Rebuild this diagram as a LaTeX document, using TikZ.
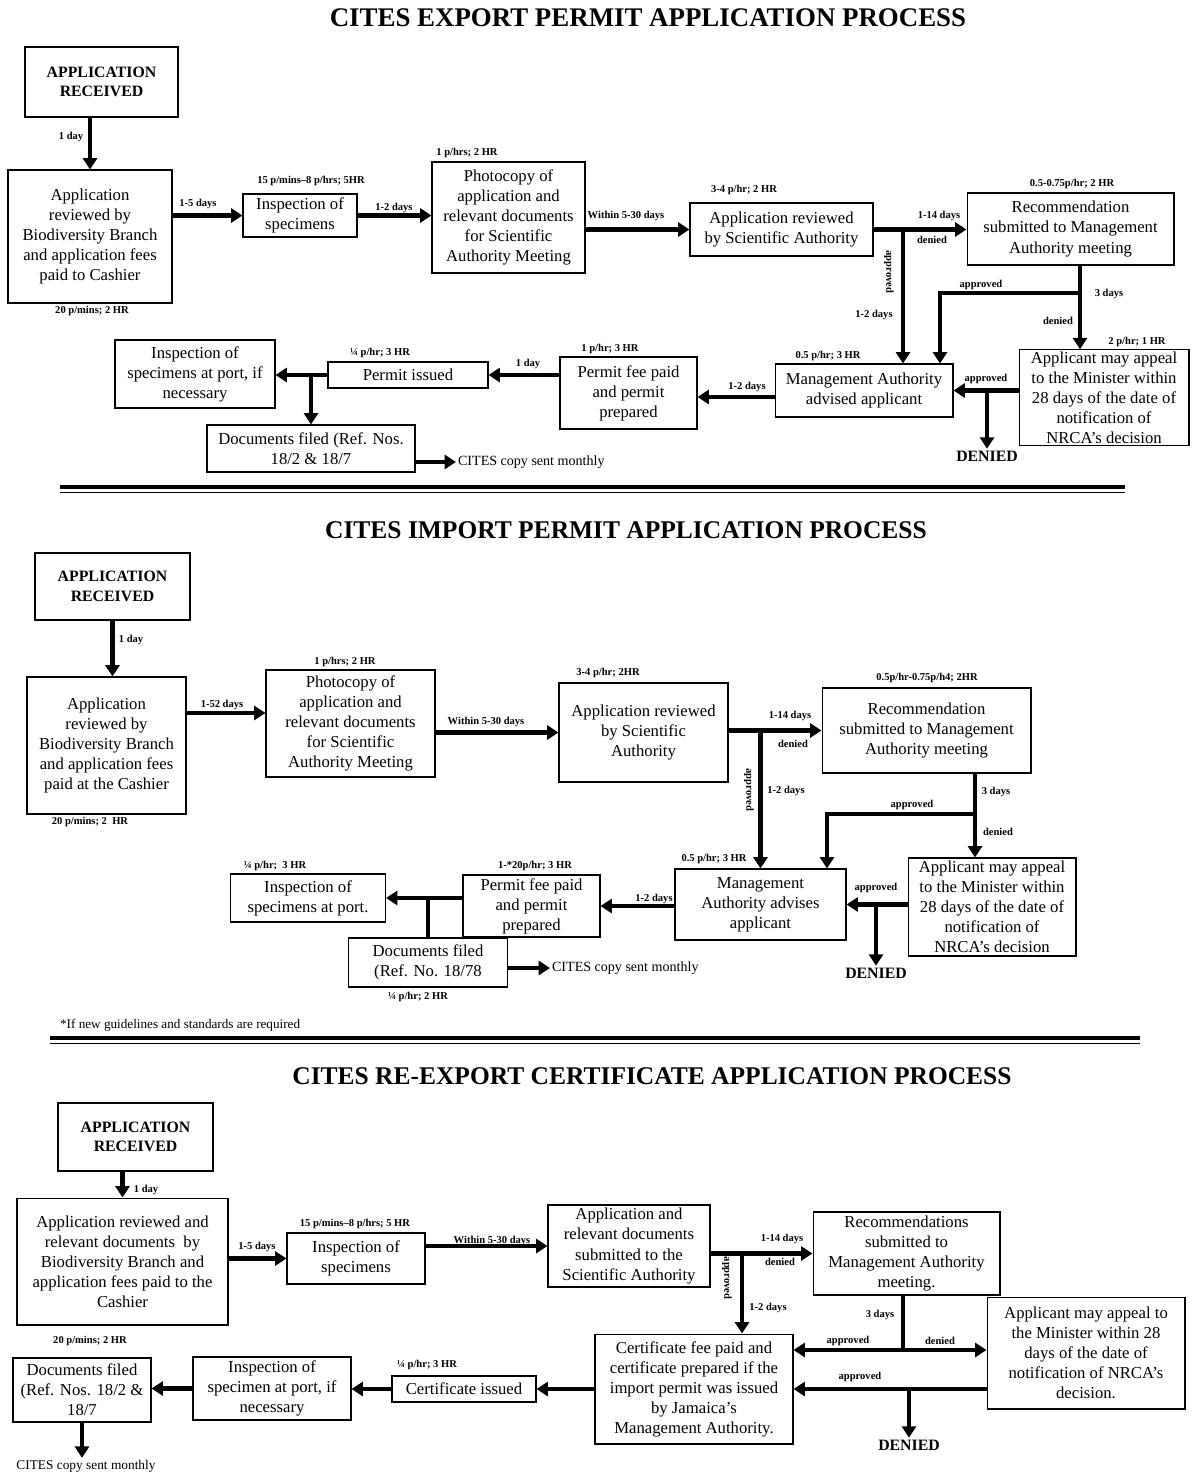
\documentclass[tikz,border=0pt]{standalone}
\usepackage{fontspec}
\setmainfont{Liberation Serif}
\usepackage{tikz}
\usetikzlibrary{arrows.meta}

\begin{document}
\begin{tikzpicture}[x=0.02cm, y=-0.02cm,
    box/.style={draw, line width=0.6pt, align=center, inner sep=1pt, font=\fontsize{9.5}{11.4}\selectfont},
    headbox/.style={box, font=\fontsize{9}{11}\selectfont\bfseries},
    lbl/.style={font=\fontsize{6}{7}\selectfont\bfseries, inner sep=0pt},
    flow/.style={line width=2.4pt, -{Triangle[length=6.5pt, width=8pt]}},
    bar/.style={line width=2.4pt},
    denied/.style={font=\fontsize{9}{10}\selectfont\bfseries, inner sep=1pt},
    note/.style={font=\fontsize{8}{9}\selectfont, inner sep=1pt},
    title/.style={font=\fontsize{14.5}{16}\selectfont\bfseries}]
    \useasboundingbox (0,0) rectangle (1191,1474);

    % ---------------- export permit ----------------
    \node[title, font=\fontsize{15.3}{17}\selectfont\bfseries] (t-exp) at (648,18) {CITES EXPORT PERMIT APPLICATION PROCESS};

    \node[headbox, minimum width=3.06cm, minimum height=1.40cm] (rec1) at (101.5,82) {APPLICATION\\RECEIVED};
    \node[box, minimum width=3.28cm, minimum height=2.66cm] (rev1) at (90,236.5) {Application\\reviewed by\\Biodiversity Branch\\and application fees\\paid to Cashier};
    \node[box, minimum width=2.28cm, minimum height=0.86cm] (insp1) at (300,215.5) {Inspection of\\specimens};
    \node[box, minimum width=3.06cm, minimum height=2.22cm] (photo1) at (508.5,217.5) {Photocopy of\\application and\\relevant documents\\for Scientific\\Authority Meeting};
    \node[box, minimum width=3.66cm, minimum height=1.06cm] (sa1) at (781.5,229.5) {Application reviewed\\by Scientific Authority};
    \node[box, minimum width=4.14cm, minimum height=1.44cm] (rmtg1) at (1070.5,229) {Recommendation\\submitted to Management\\Authority meeting};
    \node[box, minimum width=3.40cm, minimum height=1.90cm] (appeal1) at (1104,397.5) {Applicant may appeal\\to the Minister within\\28 days of the date of\\notification of\\NRCA's decision};
    \node[box, minimum width=3.56cm, minimum height=1.06cm] (ma1) at (864,390.5) {Management Authority\\advised applicant};
    \node[box, minimum width=2.74cm, minimum height=1.44cm] (fee1) at (628.5,393) {Permit fee paid\\and permit\\prepared};
    \node[box, minimum width=3.20cm, minimum height=0.52cm] (iss1) at (408,375) {Permit issued};
    \node[box, minimum width=3.20cm, minimum height=1.36cm] (port1) at (195,374) {Inspection of\\specimens at port, if\\necessary};
    \node[box, minimum width=4.16cm, minimum height=0.94cm] (docs1) at (311,448.5) {Documents filed (Ref. Nos.\\18/2 \& 18/7};
    \node[note, anchor=west] (cites1) at (456,462) {CITES copy sent monthly};
    \node[denied] (den1) at (987,456) {DENIED};

    \node[lbl] (h1) at (92,311) {20 p/mins; 2 HR};
    \node[lbl] (h2) at (311,181) {15 p/mins--8 p/hrs; 5HR};
    \node[lbl] (h3) at (467,153) {1 p/hrs; 2 HR};
    \node[lbl] (h4) at (744,190) {3-4 p/hr; 2 HR};
    \node[lbl] (h5) at (1072,184) {0.5-0.75p/hr; 2 HR};
    \node[lbl] (h6) at (1137,342) {2 p/hr; 1 HR};
    \node[lbl] (h7) at (828,356) {0.5 p/hr; 3 HR};
    \node[lbl] (h8) at (610,349) {1 p/hr; 3 HR};
    \node[lbl] (h9) at (380,353) {¼ p/hr; 3 HR};

    \coordinate (j1) at (903,229.5);
    \coordinate (k1) at (1080,293);
    \draw[flow] (rec1.south -| rev1.north) -- (rev1.north);
    \draw[flow] (rev1.east |- insp1.west) -- (insp1.west);
    \draw[flow] (insp1.east) -- (insp1.east -| photo1.west);
    \draw[flow] (photo1.east |- sa1.west) -- (sa1.west);
    \draw[flow] (sa1.east) -- (sa1.east -| rmtg1.west);
    \draw[flow] (j1) -- (j1 |- ma1.north);
    \draw[flow] (k1 |- rmtg1.south) -- (k1 |- appeal1.north);
    \draw[flow] (k1) -| ([xshift=1.52cm]ma1.north);
    \draw[flow] (appeal1.west |- ma1.east) -- (ma1.east);
    \draw[flow] (den1 |- ma1.east) -- (den1.north);
    \draw[flow] ([yshift=-0.13cm]ma1.west) -- ([yshift=-0.13cm]ma1.west -| fee1.east);
    \draw[flow] (fee1.west |- iss1.east) -- (iss1.east);
    \draw[flow] (iss1.west) -- (iss1.west -| port1.east);
    \draw[flow] (docs1.north |- iss1.west) -- (docs1.north);
    \draw[flow] (docs1.east |- cites1.west) -- (cites1.west);

    \node[lbl] (e1) at (71,137) {1 day};
    \node[lbl] (e2) at (198,204) {1-5 days};
    \node[lbl] (e3) at (394,208) {1-2 days};
    \node[lbl] (e4) at (626,216) {Within 5-30 days};
    \node[lbl] (e5) at (939,216) {1-14 days};
    \node[lbl] (e6) at (932,240) {denied};
    \node[lbl, rotate=-90] (e7) at (889,272) {approved};
    \node[lbl] (e8) at (874,315) {1-2 days};
    \node[lbl] (e9) at (981,285) {approved};
    \node[lbl] (e10) at (1109,294) {3 days};
    \node[lbl] (e11) at (1058,321) {denied};
    \node[lbl] (e12) at (986,379) {approved};
    \node[lbl] (e13) at (747,387) {1-2 days};
    \node[lbl] (e14) at (528,364) {1 day};

    \draw[line width=2pt] (60,487) -- (1125,487);
    \draw[line width=0.5pt] (60,492) -- (1125,492);

    % ---------------- import permit ----------------
    \node[title] (t-imp) at (626,530) {CITES IMPORT PERMIT APPLICATION PROCESS};

    \node[headbox, minimum width=3.10cm, minimum height=1.34cm] (rec2) at (112.5,586.5) {APPLICATION\\RECEIVED};
    \node[box, minimum width=3.18cm, minimum height=2.74cm] (rev2) at (106.5,745.5) {Application\\reviewed by\\Biodiversity Branch\\and application fees\\paid at the Cashier};
    \node[box, minimum width=3.38cm, minimum height=2.14cm] (photo2) at (350.5,723.5) {Photocopy of\\application and\\relevant documents\\for Scientific\\Authority Meeting};
    \node[box, minimum width=3.38cm, minimum height=1.98cm] (sa2) at (643.5,732.5) {Application reviewed\\by Scientific\\Authority};
    \node[box, minimum width=4.18cm, minimum height=1.70cm] (rmtg2) at (926.5,730.5) {Recommendation\\submitted to Management\\Authority meeting};
    \node[box, minimum width=3.36cm, minimum height=1.96cm] (appeal2) at (992,907) {Applicant may appeal\\to the Minister within\\28 days of the date of\\notification of\\NRCA's decision};
    \node[box, minimum width=3.42cm, minimum height=1.42cm] (ma2) at (760.5,904.5) {Management\\Authority advises\\applicant};
    \node[box, minimum width=2.74cm, minimum height=1.24cm] (fee2) at (531.5,906) {Permit fee paid\\and permit\\prepared};
    \node[box, minimum width=3.10cm, minimum height=0.96cm] (port2) at (308,898) {Inspection of\\specimens at port.};
    \node[box, minimum width=3.18cm, minimum height=0.98cm] (docs2) at (428,962.5) {Documents filed\\(Ref. No. 18/78};
    \node[note, anchor=west] (cites2) at (550,968) {CITES copy sent monthly};
    \node[denied] (den2) at (876,973) {DENIED};
    \node[note, anchor=west, font=\fontsize{7.5}{9}\selectfont] (foot) at (58,1025) {*If new guidelines and standards are required};

    \node[lbl] (i1) at (90,822) {20 p/mins; 2\ \ HR};
    \node[lbl] (i2) at (345,662) {1 p/hrs; 2 HR};
    \node[lbl] (i3) at (608,673) {3-4 p/hr; 2HR};
    \node[lbl] (i4) at (927,678) {0.5p/hr-0.75p/h4; 2HR};
    \node[lbl] (i5) at (714,859) {0.5 p/hr; 3 HR};
    \node[lbl] (i6) at (535,866) {1-*20p/hr; 3 HR};
    \node[lbl] (i7) at (275,866) {¼ p/hr;\ \ 3 HR};
    \node[lbl] (i8) at (418,997) {¼ p/hr; 2 HR};

    \coordinate (k2) at (975,814);
    \draw[flow] (rec2.south) -- (rec2.south |- rev2.north);
    \draw[flow] ([yshift=0.65cm]rev2.east) -- ([yshift=0.65cm]rev2.east -| photo2.west);
    \draw[flow] (photo2.east |- sa2.west) -- (sa2.west);
    \draw[flow] (sa2.east |- rmtg2.west) -- (rmtg2.west);
    \draw[flow] (ma2.north |- rmtg2.west) -- (ma2.north);
    \draw[flow] (k2 |- rmtg2.south) -- (k2 |- appeal2.north);
    \draw[flow] (k2) -| ([xshift=1.33cm]ma2.north);
    \draw[flow] (appeal2.west |- ma2.east) -- (ma2.east);
    \draw[flow] (den2 |- ma2.east) -- (den2.north);
    \draw[flow] (ma2.west |- fee2.east) -- (fee2.east);
    \draw[flow] (fee2.west |- port2.east) -- (port2.east);
    \draw[bar] (docs2.north |- port2.east) -- (docs2.north);
    \draw[flow] (docs2.east |- cites2.west) -- (cites2.west);

    \node[lbl] (f1) at (131,640) {1 day};
    \node[lbl] (f2) at (222,705) {1-52 days};
    \node[lbl] (f3) at (486,722) {Within 5-30 days};
    \node[lbl] (f4) at (790,716) {1-14 days};
    \node[lbl] (f5) at (793,744) {denied};
    \node[lbl, rotate=-90] (f6) at (749,790) {approved};
    \node[lbl] (f7) at (786,791) {1-2 days};
    \node[lbl] (f8) at (912,805) {approved};
    \node[lbl] (f9) at (996,792) {3 days};
    \node[lbl] (f10) at (998,832) {denied};
    \node[lbl] (f11) at (876,888) {approved};
    \node[lbl] (f12) at (654,899) {1-2 days};

    \draw[line width=2pt] (50,1038) -- (1140,1038);
    \draw[line width=0.5pt] (50,1043) -- (1140,1043);

    % ---------------- re-export certificate ----------------
    \node[title] (t-re) at (652,1076) {CITES RE-EXPORT CERTIFICATE APPLICATION PROCESS};

    \node[headbox, minimum width=3.10cm, minimum height=1.36cm] (rec3) at (135.5,1137) {APPLICATION\\RECEIVED};
    \node[box, minimum width=4.22cm, minimum height=2.54cm] (rev3) at (122.5,1261.5) {Application reviewed and\\relevant documents\ \ by\\Biodiversity Branch and\\application fees paid to the\\Cashier};
    \node[box, minimum width=2.76cm, minimum height=1.02cm] (insp3) at (356,1258.5) {Inspection of\\specimens};
    \node[box, minimum width=3.24cm, minimum height=1.64cm] (sub3) at (629,1246) {Application and\\relevant documents\\submitted to the\\Scientific Authority};
    \node[box, minimum width=3.74cm, minimum height=1.66cm] (rmtg3) at (906.5,1253.5) {Recommendations\\submitted to\\Management Authority\\meeting.};
    \node[box, minimum width=3.96cm, minimum height=2.24cm] (appeal3) at (1086,1353) {Applicant may appeal to\\the Minister within 28\\days of the date of\\notification of NRCA's\\decision.};
    \node[box, minimum width=3.96cm, minimum height=2.20cm] (cert3) at (694,1389) {Certificate fee paid and\\certificate prepared if the\\import permit was issued\\by Jamaica's\\Management Authority.};
    \node[box, minimum width=2.88cm, minimum height=0.52cm] (iss3) at (464,1389) {Certificate issued};
    \node[box, minimum width=3.16cm, minimum height=1.26cm] (port3) at (272,1388.5) {Inspection of\\specimen at port, if\\necessary};
    \node[box, minimum width=2.76cm, minimum height=1.28cm] (docs3) at (82,1390) {Documents filed\\(Ref. Nos. 18/2 \&\\18/7};
    \node[note, font=\fontsize{7.6}{9}\selectfont] (cites3) at (86,1466) {CITES copy sent monthly};
    \node[denied] (den3) at (909,1445) {DENIED};

    \node[lbl] (r1) at (90,1341) {20 p/mins; 2 HR};
    \node[lbl] (r2) at (355,1224) {15 p/mins--8 p/hrs; 5 HR};
    \node[lbl] (r3) at (427,1365) {¼ p/hr; 3 HR};

    \coordinate (k3) at (903,1350);
    \draw[flow] (rev3.north |- rec3.south) -- (rev3.north);
    \draw[flow] (rev3.east |- insp3.west) -- (insp3.west);
    \draw[flow] (insp3.east |- sub3.west) -- (sub3.west);
    \draw[flow] (sub3.east |- rmtg3.west) -- (rmtg3.west);
    \draw[flow] ([xshift=0.96cm]cert3.north |- rmtg3.west) -- ([xshift=0.96cm]cert3.north);
    \draw[bar] (k3 |- rmtg3.south) -- (k3);
    \draw[flow] (k3) -- (k3 -| cert3.east);
    \draw[flow] (k3) -- (k3 -| appeal3.west);
    \draw[flow] (appeal3.west |- cert3.east) -- (cert3.east);
    \draw[flow] (den3 |- cert3.east) -- (den3.north);
    \draw[flow] (cert3.west) -- (iss3.east);
    \draw[flow] (iss3.west) -- (iss3.west -| port3.east);
    \draw[flow] (port3.west) -- (port3.west -| docs3.east);
    \draw[flow] (docs3.south) -- (docs3.south |- cites3.north);

    \node[lbl] (g1) at (146,1190) {1 day};
    \node[lbl] (g2) at (257,1247) {1-5 days};
    \node[lbl] (g3) at (492,1241) {Within 5-30 days};
    \node[lbl] (g4) at (782,1239) {1-14 days};
    \node[lbl] (g5) at (780,1262) {denied};
    \node[lbl, rotate=-90] (g6) at (727,1278) {approved};
    \node[lbl] (g7) at (768,1308) {1-2 days};
    \node[lbl] (g8) at (880,1315) {3 days};
    \node[lbl] (g9) at (848,1341) {approved};
    \node[lbl] (g10) at (940,1341) {denied};
    \node[lbl] (g11) at (860,1377) {approved};

\end{tikzpicture}
\end{document}
